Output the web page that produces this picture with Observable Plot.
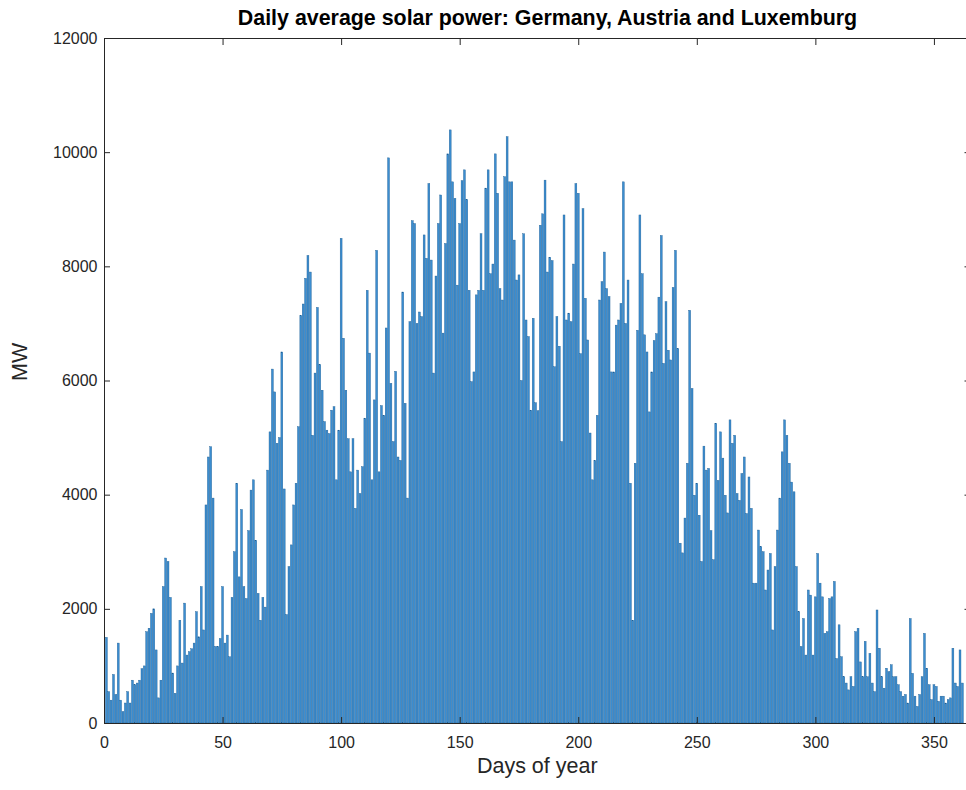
<!DOCTYPE html>
<html><head><meta charset="utf-8">
<script src="https://cdn.jsdelivr.net/npm/d3@7"></script>
<script src="https://cdn.jsdelivr.net/npm/@observablehq/plot@0.6"></script>
<style>
body{margin:0;background:#fff;font-family:"Liberation Sans",Arial,sans-serif;overflow:hidden;}
#title{width:966px;box-sizing:border-box;padding-left:129px;padding-right:0;text-align:center;font-weight:bold;font-size:21.4px;color:#000;height:30px;line-height:36px;white-space:nowrap;}
</style></head><body>
<div id="title">Daily average solar power: Germany, Austria and Luxemburg</div>
<div id="chart"></div>
<script>
// Daily average solar power (MW), day 1..362, grouped by month
const jan = [1500,550,400,850,500,1400,400,200,350,550,350,750,670,700,750,950,1000,1600,1660,1920,2000,1280,440,750,2390,2890,2830,2200,875,520,1000];
const feb = [1800,1050,2100,1190,1250,1300,1400,1950,1510,2390,1630,3820,4660,4840,3940,1340,1340,1480,2390,1400,1540,1160,2200,3000,4200,2560,3740,2390];
const mar = [2180,3370,4080,4260,3200,2270,1800,2200,2030,4430,5100,6200,5800,4900,5000,6500,4100,1900,2740,3120,3820,4200,5190,7140,7340,7790,8190,7900,5040,6130,7280];
const apr = [6280,5830,5280,5130,5070,5480,5540,4260,5130,8490,6740,5830,4980,4400,4980,3760,4430,4020,4490,5340,7580,6480,4260,5660,8280,4400,5560,5390,6920,9900];
const may = [5950,4930,6160,4660,4600,7550,5600,3940,7030,8800,8750,7000,7200,7120,8550,8140,9450,8110,6130,7830,8750,9250,6830,8400,9970,10390,9480,9190,7670,8750,9500];
const jun = [9690,9170,7580,5980,6150,7500,7580,8570,7580,9370,9690,7870,8040,9970,9280,7610,7410,9570,10270,9480,9480,8460,7760,7850,6000,8570,7060,6770,5480,7090];
const jul = [5610,5470,8720,8920,9510,7900,8160,8100,6240,7120,6600,4930,8900,7060,7180,7030,8040,9450,9280,6470,9010,7440,6710,5080,4260,4600,5390,7410,7730,8250,7610];
const aug = [7470,6150,6150,6970,7060,7350,9480,7000,7760,4200,1800,4550,6880,8900,7870,6800,6500,5450,6150,6700,6820,7460,8540,6300,7380,6530,6360,7630,8280,6560,3150];
const sep = [2980,3590,4550,7230,5860,3990,4200,3640,2830,4850,4430,4460,3370,2860,5250,4250,5100,4640,3990,3680,5310,4900,5040,4020,3900,4370,4660,3670,4310,3760];
const oct = [2450,2450,3380,3090,3000,2330,2680,2970,1630,2740,3380,3940,4750,5310,5040,4550,4220,4050,2740,1950,1340,1830,1190,2330,2240,1190,2210,2970,2450,2210,1570];
const nov = [1600,2180,2210,2480,1130,1720,1160,810,700,580,810,640,1600,1660,1070,810,1430,810,1220,700,550,1980,1310,810,610,960,900,1020,810,810];
const dec = [670,550,470,500,350,1830,870,470,290,500,810,1570,960,670,410,670,640,380,470,470,350,410,440,1310,700,640,1280,700];

const xTicks = [0,50,100,150,200,250,300,350];
const yTicks = [0,2000,4000,6000,8000,10000,12000];

const values = [...jan,...feb,...mar,...apr,...may,...jun,...jul,...aug,...sep,...oct,...nov,...dec];
const data = values.map((v,i)=>({day:i+1, mw:v}));

const ink = "#262626";
const chart = Plot.plot({
  width: 966, height: 760,
  marginTop: 8, marginLeft: 104, marginRight: -3.5, marginBottom: 67,
  style: {fontFamily: "Liberation Sans, Arial, sans-serif", fontSize: "16px", color: ink, background: "#fff"},
  x: {domain: [0, 365]},
  y: {domain: [0, 12000]},
  marks: [
    Plot.rectY(data, {x1: d => d.day - 0.4, x2: d => d.day + 0.4, y1: 0, y2: "mw", fill: "#3b8dd0", stroke: "#1d5e94", strokeWidth: 0.4}),
    Plot.frame({stroke: ink}),
    Plot.axisX(xTicks, {anchor: "bottom", tickSize: -6, tickPadding: 19, tickFormat: d => String(d), label: null, stroke: ink}),
    Plot.axisX(xTicks, {anchor: "top", tickSize: -6, tickFormat: () => "", label: null, stroke: ink}),
    Plot.axisY(yTicks, {anchor: "left", tickSize: -6, tickPadding: 13, tickFormat: d => String(d), label: null, stroke: ink}),
    Plot.axisY(yTicks, {anchor: "right", tickSize: -6, tickFormat: () => "", label: null, stroke: ink}),
    Plot.text(["Days of year"], {frameAnchor: "bottom", dy: 49, fontSize: 21.5, fill: ink}),
    Plot.text(["MW"], {frameAnchor: "left", dx: -84, rotate: -90, fontSize: 21.5, fill: ink})
  ]
});
document.getElementById("chart").appendChild(chart);
</script>
</body></html>
